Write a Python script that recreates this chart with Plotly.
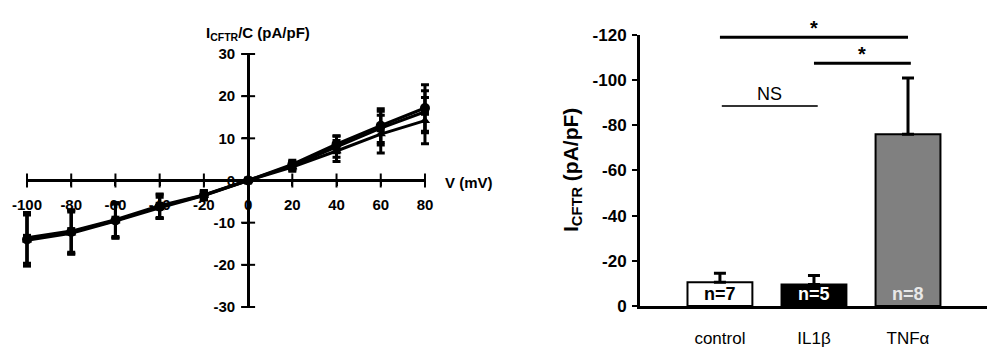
import plotly.graph_objects as go

# ---- Left panel: I-V relationship ----
voltages = [-100, -80, -60, -40, -20, 0, 20, 40, 60, 80]
iv_control = [-14.0, -12.2, -9.5, -6.2, -3.5, 0.0, 3.8, 8.6, 13.0, 17.2]
iv_control_err = [6.3, 5.2, 4.2, 2.8, 1.0, 0.5, 1.0, 2.0, 4.0, 5.5]
iv_il1b = [-13.6, -12.0, -9.3, -6.0, -3.4, 0.0, 3.5, 8.0, 12.4, 16.3]
iv_il1b_err = [6.0, 5.0, 4.0, 2.8, 1.0, 0.5, 1.0, 2.5, 4.0, 5.0]
iv_tnfa = [-14.2, -12.5, -9.6, -6.5, -3.6, 0.0, 3.2, 7.0, 11.0, 14.2]
iv_tnfa_err = [6.0, 5.0, 4.0, 2.5, 1.0, 0.5, 1.0, 2.5, 4.5, 5.5]
iv_xticks = [-100, -80, -60, -40, -20, 0, 20, 40, 60, 80]
iv_xticktext = ["-100", "-80", "-60", "-40", "-20", "0", "20", "40", "60", "80"]
iv_yticks = [-30, -20, -10, 0, 10, 20, 30]
iv_yticktext = ["-30", "-20", "-10", "0", "10", "20", "30"]

# ---- Right panel: bar chart ----
groups = ["control", "IL1β", "TNFα"]
group_labels = ["control", "IL1β", "TNF\u03b1"]
bar_values = [-10.5, -9.5, -76.0]
bar_errors = [4.0, 4.0, 25.0]
bar_n = ["n=7", "n=5", "n=8"]
bar_colors = ["white", "black", "#808080"]
n_colors = ["black", "white", "#e8e8e8"]
bar_yticks = [0, -20, -40, -60, -80, -100, -120]
bar_yticktext = ["0", "-20", "-40", "-60", "-80", "-100", "-120"]
# comparisons: (start index, end index, level, label)
comparisons = [(0.0, 2.0, -119.0, "*"), (1.0, 2.03, -107.5, "*"), (0.02, 1.04, -88.5, "NS")]

FONT = "Liberation Sans, Arial, sans-serif"

fig = go.Figure()

# x axis line drawn across the tick span
fig.add_trace(go.Scatter(
    x=[iv_xticks[0], iv_xticks[-1]], y=[0, 0], mode="lines",
    line=dict(color="black", width=3),
    xaxis="x", yaxis="y", showlegend=False, hoverinfo="skip",
))

series = [
    (iv_control, iv_control_err, "circle", 10),
    (iv_il1b, iv_il1b_err, "square", 8),
    (iv_tnfa, iv_tnfa_err, "triangle-up", 9),
]
for vals, errs, sym, sz in series:
    fig.add_trace(go.Scatter(
        x=voltages, y=vals, mode="lines+markers",
        line=dict(color="black", width=3),
        marker=dict(symbol=sym, size=sz, color="black"),
        error_y=dict(type="data", array=errs, color="black", thickness=3, width=4),
        xaxis="x", yaxis="y", showlegend=False, cliponaxis=False,
    ))

# cross-through tick marks
fig.add_trace(go.Scatter(
    x=iv_xticks, y=[0] * len(iv_xticks), mode="markers",
    marker=dict(symbol="line-ns", size=10, line=dict(color="black", width=2)),
    xaxis="x", yaxis="y", showlegend=False, hoverinfo="skip", cliponaxis=False,
))
fig.add_trace(go.Scatter(
    x=[0] * len(iv_yticks), y=iv_yticks, mode="markers",
    marker=dict(symbol="line-ew", size=10, line=dict(color="black", width=2)),
    xaxis="x", yaxis="y", showlegend=False, hoverinfo="skip", cliponaxis=False,
))

# bars
fig.add_trace(go.Bar(
    x=groups, y=bar_values, width=0.69,
    marker=dict(color=bar_colors, line=dict(color="black", width=2)),
    error_y=dict(type="data", symmetric=False, array=[0, 0, 0], arrayminus=bar_errors,
                 color="black", thickness=3, width=6),
    xaxis="x2", yaxis="y2", showlegend=False,
))

annotations = []
for g, n, c in zip(groups, bar_n, n_colors):
    annotations.append(dict(x=g, y=0, xref="x2", yref="y2", text=n, showarrow=False,
                            yanchor="bottom", yshift=0,
                            font=dict(family=FONT, size=18, color=c, weight="bold")))

shapes = []
for x0, x1, lvl, lab in comparisons:
    is_ns = lab == "NS"
    shapes.append(dict(type="line", xref="x2", yref="y2", x0=x0, x1=x1, y0=lvl, y1=lvl,
                       line=dict(color="#333333" if is_ns else "black", width=2 if is_ns else 3)))
    annotations.append(dict(x=(x0 + x1) / 2, y=lvl, xref="x2", yref="y2", text=lab,
                            showarrow=False, yanchor="bottom", yshift=0 if is_ns else -4,
                            font=dict(family=FONT, size=18 if is_ns else 20, color="black",
                                      weight="normal" if is_ns else "bold")))

# axis titles
annotations.append(dict(x=0.258, y=1 - 33 / 357, xref="paper", yref="paper",
                        xanchor="center", yanchor="middle",
                        text="I<sub>CFTR</sub>/C (pA/pF)", showarrow=False,
                        font=dict(family=FONT, size=15, color="black", weight="bold")))
annotations.append(dict(x=0.443, y=1 - 182 / 357, xref="paper", yref="paper",
                        text="V (mV)", showarrow=False, xanchor="left", yanchor="middle",
                        font=dict(family=FONT, size=15, color="black", weight="bold")))
annotations.append(dict(x=0.572, y=1 - 170 / 357, xref="paper", yref="paper",
                        xanchor="center", yanchor="middle",
                        text="I<sub>CFTR</sub> (pA/pF)", showarrow=False, textangle=-90,
                        font=dict(family=FONT, size=21, color="black", weight="bold")))

fig.update_layout(
    width=1000, height=357,
    margin=dict(l=0, r=0, t=0, b=0, autoexpand=False),
    paper_bgcolor="white", plot_bgcolor="white",
    font=dict(family=FONT, color="black"),
    shapes=shapes, annotations=annotations,
    xaxis=dict(domain=[0.02037, 0.4316], range=[-103, 83], anchor="free", position=0.4944,
               automargin=False,
               showline=False, showgrid=False, zeroline=False,
               tickmode="array", tickvals=iv_xticks, ticktext=iv_xticktext,
               ticks="outside", ticklen=5, tickwidth=2, tickcolor="black",
               ticklabelstandoff=6,
               tickfont=dict(family=FONT, size=15, color="black", weight="bold")),
    yaxis=dict(domain=[0.1401, 0.8487], range=[-30, 30], anchor="free", position=0.2481,
               automargin=False,
               showline=True, linecolor="black", linewidth=3, showgrid=False, zeroline=False,
               tickmode="array", tickvals=iv_yticks, ticktext=iv_yticktext,
               ticks="outside", ticklen=5, tickwidth=2, tickcolor="black",
               ticklabelstandoff=4,
               tickfont=dict(family=FONT, size=15, color="black", weight="bold")),
    xaxis2=dict(domain=[0.640, 0.987], range=[-0.85, 2.84], anchor="y2",
                automargin=False,
                showline=True, linecolor="black", linewidth=3, showgrid=False, zeroline=False,
                tickmode="array", tickvals=groups, ticktext=group_labels, ticks="",
                ticklabelstandoff=15,
                tickfont=dict(family=FONT, size=17, color="black")),
    yaxis2=dict(domain=[0.143, 0.902], range=[0, -120], anchor="x2",
                automargin=False,
                showline=True, linecolor="black", linewidth=3, showgrid=False, zeroline=False,
                tickmode="array", tickvals=bar_yticks, ticktext=bar_yticktext,
                ticks="outside", ticklen=5, tickwidth=2, tickcolor="black",
                ticklabelstandoff=2,
                tickfont=dict(family=FONT, size=17, color="black", weight="bold")),
)

fig.write_html("out.html", config={"displayModeBar": False},
               post_script="document.body.style.margin='0';")
